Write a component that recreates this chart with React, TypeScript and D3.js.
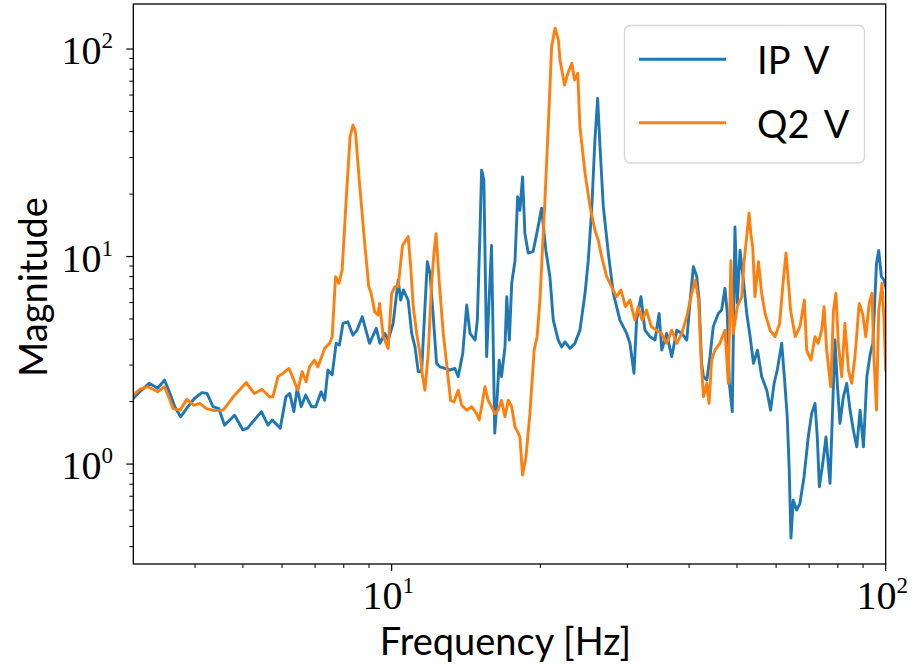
import React from 'react';
import * as d3 from 'd3';

// IP V series (frequency in Hz, magnitude)
const ipFreq = [3.0, 3.09, 3.23, 3.36, 3.47, 3.56, 3.64, 3.74, 3.87, 3.99, 4.13, 4.23, 4.35, 4.47, 4.59, 4.81, 5.0, 5.11, 5.45, 5.62, 5.73, 5.95, 6.11, 6.22, 6.34, 6.44, 6.56, 6.7, 6.88, 7.02, 7.2, 7.32, 7.43, 7.58, 7.72, 7.84, 7.97, 8.15, 8.35, 8.51, 8.72, 9.02, 9.31, 9.47, 9.69, 9.84, 10.07, 10.31, 10.43, 10.56, 10.8, 10.98, 11.15, 11.32, 11.5, 11.68, 11.81, 11.96, 12.14, 12.33, 12.52, 12.82, 13.12, 13.43, 13.64, 13.93, 14.19, 14.41, 14.76, 14.91, 15.09, 15.21, 15.37, 15.57, 15.75, 15.93, 16.17, 16.34, 16.51, 16.69, 16.96, 17.1, 17.31, 17.5, 17.77, 17.99, 18.18, 18.41, 18.61, 18.9, 19.34, 19.79, 20.11, 20.52, 20.91, 21.24, 21.74, 22.08, 22.44, 22.96, 23.5, 24.05, 24.63, 25.0, 25.4, 25.79, 26.12, 26.41, 26.82, 27.45, 28.1, 28.98, 29.9, 30.36, 30.94, 31.32, 31.96, 32.56, 33.34, 34.13, 34.78, 35.22, 36.03, 36.89, 37.78, 38.66, 39.57, 40.2, 40.81, 41.46, 41.91, 42.4, 42.77, 43.44, 44.09, 44.76, 45.84, 46.54, 47.28, 47.8, 48.25, 48.91, 49.53, 50.08, 50.72, 51.51, 52.33, 53.16, 54.0, 55.02, 56.1, 57.45, 58.48, 59.45, 60.33, 61.6, 62.5, 63.2, 63.79, 64.3, 64.99, 66.05, 67.05, 68.35, 69.7, 70.82, 71.93, 72.7, 73.4, 74.55, 75.7, 77.15, 78.15, 78.95, 79.8, 80.8, 82.1, 83.4, 84.7, 86.0, 87.4, 88.75, 90.15, 91.6, 93.1, 94.2, 95.8, 96.8, 98.0, 99.2, 100];
const ipMag = [2.07, 2.23, 2.45, 2.32, 2.54, 2.19, 1.89, 1.69, 1.89, 2.07, 2.21, 2.19, 1.89, 1.85, 1.54, 1.72, 1.46, 1.49, 1.79, 1.54, 1.63, 1.49, 2.11, 2.19, 1.79, 2.32, 1.89, 2.15, 1.89, 1.89, 2.23, 2.03, 2.84, 2.69, 3.82, 3.75, 4.76, 4.85, 4.18, 4.42, 5.13, 3.82, 4.51, 3.82, 4.26, 3.96, 4.76, 7.7, 6.17, 6.9, 6.17, 4.26, 3.67, 2.79, 2.79, 5.73, 9.44, 8.3, 5.13, 3.06, 2.94, 2.89, 2.84, 2.89, 2.64, 3.42, 5.84, 4.26, 3.96, 4.94, 12.9, 26.1, 23.4, 3.29, 6.17, 11.3, 1.41, 2.03, 3.17, 2.64, 3.67, 6.4, 3.96, 7.43, 9.55, 19.4, 16.7, 24.2, 12.9, 10.4, 10.6, 13.9, 17.1, 10.7, 8.0, 4.94, 3.96, 3.67, 3.88, 3.61, 3.82, 4.42, 6.65, 9.55, 16.7, 36.4, 57.8, 33.8, 17.4, 10.4, 6.65, 4.94, 4.26, 3.82, 2.74, 4.94, 6.4, 4.42, 4.11, 3.96, 5.32, 3.54, 4.26, 3.29, 4.42, 4.26, 3.96, 6.17, 8.93, 8.0, 6.17, 3.06, 2.64, 2.54, 3.29, 4.59, 5.32, 5.52, 7.03, 5.32, 2.45, 1.79, 13.9, 5.95, 10.7, 7.7, 5.32, 4.11, 3.06, 3.54, 2.64, 2.27, 1.82, 2.45, 2.84, 3.82, 2.45, 1.69, 0.935, 0.44, 0.67, 0.6, 0.647, 0.869, 1.35, 1.75, 1.96, 1.35, 0.778, 1.0, 1.35, 0.807, 1.96, 3.96, 2.45, 1.57, 2.11, 2.45, 1.82, 1.46, 1.21, 1.82, 1.21, 2.64, 3.42, 3.82, 9.27, 10.7, 8.0, 7.7, 7.15];

// Q2 V series
const q2Freq = [3.0, 3.09, 3.21, 3.36, 3.47, 3.56, 3.61, 3.73, 3.85, 3.98, 4.09, 4.22, 4.38, 4.56, 4.78, 5.08, 5.27, 5.47, 5.66, 5.75, 5.89, 6.03, 6.2, 6.46, 6.59, 6.71, 6.82, 6.98, 7.09, 7.32, 7.49, 7.58, 7.7, 7.82, 7.94, 8.09, 8.24, 8.35, 8.45, 8.61, 8.82, 8.99, 9.09, 9.24, 9.38, 9.45, 9.62, 9.84, 10.0, 10.15, 10.31, 10.52, 10.8, 10.93, 11.06, 11.24, 11.41, 11.55, 11.68, 11.86, 12.05, 12.18, 12.3, 12.49, 12.72, 12.92, 13.16, 13.37, 13.64, 13.86, 14.19, 14.52, 14.86, 15.04, 15.21, 15.45, 15.68, 15.93, 16.17, 16.43, 16.69, 16.96, 17.22, 17.5, 17.77, 18.04, 18.18, 18.41, 18.7, 19.05, 19.43, 19.7, 19.96, 20.43, 20.75, 21.08, 21.42, 21.76, 21.92, 22.38, 22.73, 23.16, 23.45, 23.81, 24.05, 24.63, 25.21, 25.79, 26.2, 26.61, 27.24, 27.88, 28.53, 29.11, 29.73, 30.36, 31.07, 31.54, 32.14, 32.78, 33.55, 34.34, 35.15, 36.03, 36.89, 37.78, 38.66, 39.57, 40.5, 41.15, 41.81, 42.34, 42.77, 43.44, 43.9, 44.43, 45.11, 46.18, 47.28, 48.02, 48.6, 49.12, 50.08, 51.12, 51.65, 52.33, 52.9, 53.33, 53.81, 54.37, 55.27, 56.1, 57.0, 58.33, 59.7, 61.0, 62.05, 62.85, 63.5, 64.18, 65.6, 67.05, 68.45, 69.2, 70.6, 71.93, 73.0, 74.2, 75.05, 75.95, 77.4, 78.4, 79.3, 80.2, 81.45, 82.7, 84.05, 85.35, 86.65, 88.4, 89.8, 91.15, 92.6, 93.8, 94.65, 95.8, 96.8, 98.3, 99.2, 100];
const q2Mag = [2.15, 2.29, 2.36, 2.23, 2.36, 2.03, 1.85, 1.82, 2.05, 1.92, 1.96, 1.85, 1.81, 1.82, 2.11, 2.47, 2.19, 2.29, 2.11, 2.11, 2.64, 2.74, 2.89, 2.27, 2.79, 2.49, 2.94, 3.17, 2.94, 3.61, 3.82, 4.11, 8.0, 7.43, 8.61, 18.7, 37.8, 43.0, 39.9, 22.5, 11.6, 7.15, 6.65, 5.42, 5.23, 5.95, 4.11, 3.61, 6.65, 7.15, 7.15, 11.3, 12.5, 8.93, 5.73, 4.26, 3.42, 2.64, 2.27, 3.42, 7.43, 10.4, 12.9, 7.43, 4.26, 3.06, 2.03, 1.99, 2.27, 1.92, 1.82, 1.89, 1.75, 1.63, 1.89, 2.36, 2.03, 1.89, 1.75, 1.82, 2.03, 1.69, 2.03, 1.89, 1.51, 1.41, 1.35, 0.885, 1.08, 1.75, 3.54, 4.11, 6.17, 18.7, 42.2, 103, 126, 110, 88.5, 67.1, 76.4, 85.3, 71, 76.4, 42.2, 25.2, 17.4, 13.4, 11.95, 9.99, 8.0, 7.15, 6.4, 6.9, 5.73, 6.17, 4.94, 5.73, 4.94, 5.52, 4.59, 4.42, 4.26, 3.82, 4.42, 3.82, 4.26, 5.13, 6.65, 7.7, 6.17, 3.06, 2.11, 2.45, 1.96, 3.17, 3.54, 3.82, 4.42, 2.45, 9.55, 4.26, 5.73, 6.4, 9.27, 12.5, 16.2, 12.9, 11.1, 6.4, 9.44, 6.65, 5.32, 4.42, 4.11, 4.76, 7.7, 10.4, 7.7, 5.52, 4.11, 4.59, 6.17, 3.54, 3.17, 4.11, 3.82, 4.42, 5.73, 3.54, 2.36, 5.52, 6.65, 3.82, 2.64, 4.76, 2.84, 2.45, 3.29, 5.95, 5.32, 4.11, 5.95, 6.65, 3.29, 1.82, 5.52, 7.43, 4.94, 2.84];

const seriesNames = ['IP V', 'Q2 V'];
const seriesColors = ['#1f77b4', '#ff7f0e'];
const xDomain = [3, 100];
const yDomain = [0.33, 164.8];
const xMajorTicks = [10, 100];
const yMajorTicks = [1, 10, 100];
const xLabel = 'Frequency [Hz]';
const yLabel = 'Magnitude';

export default function App() {
  const W = 917, H = 668;
  const L = 133.3, R = 885.7, T = 4, B = 564;
  const x = d3.scaleLog().domain(xDomain).range([L, R]);
  const y = d3.scaleLog().domain(yDomain).range([B, T]);
  const line = d3.line<[number, number]>().x(d => x(d[0])).y(d => y(d[1]));
  const ipData: [number, number][] = ipFreq.map((f, i) => [f, ipMag[i]]);
  const q2Data: [number, number][] = q2Freq.map((f, i) => [f, q2Mag[i]]);
  const isMajor = (v: number, majors: number[]) => majors.some(m => Math.abs(m - v) / m < 1e-6);
  const xMinor = x.ticks().filter(v => !isMajor(v, xMajorTicks) && v > xDomain[0] * 1.001);
  const yMinor = y.ticks().filter(v => !isMajor(v, yMajorTicks));
  const serif = "'Liberation Serif', 'DejaVu Serif', serif";
  const sans = "Lato, 'Open Sans', sans-serif";
  const expOf = (v: number) => Math.round(Math.log10(v));

  return (
    <svg width={W} height={H} style={{ position: 'absolute', left: 0, top: 0, background: '#fff' }}>
      <defs>
        <clipPath id="plotclip">
          <rect x={L} y={T} width={R - L} height={B - T} />
        </clipPath>
      </defs>
      <rect x={0} y={0} width={W} height={H} fill="#fff" />
      <g clipPath="url(#plotclip)" fill="none" strokeWidth={2.9} strokeLinejoin="round" strokeLinecap="square">
        <path d={line(ipData) || ''} stroke={seriesColors[0]} />
        <path d={line(q2Data) || ''} stroke={seriesColors[1]} />
      </g>
      {/* spines */}
      <rect x={L} y={T} width={R - L} height={B - T} fill="none" stroke="#000" strokeWidth={1.3} />
      {/* x ticks */}
      {xMinor.map(v => (
        <line key={'xm' + v} x1={x(v)} x2={x(v)} y1={B} y2={B + 4} stroke="#000" strokeWidth={1} />
      ))}
      {xMajorTicks.map(v => (
        <g key={'xM' + v}>
          <line x1={x(v)} x2={x(v)} y1={B} y2={B + 7} stroke="#000" strokeWidth={1.2} />
          <text x={x(v) - 3.5} y={609} textAnchor="middle" fontFamily={serif} fontSize={40} fill="#000">
            10<tspan dy={-16} fontSize={23}>{expOf(v)}</tspan>
          </text>
        </g>
      ))}
      {/* y ticks */}
      {yMinor.map(v => (
        <line key={'ym' + v} x1={L - 4} x2={L} y1={y(v)} y2={y(v)} stroke="#000" strokeWidth={1} />
      ))}
      {yMajorTicks.map(v => (
        <g key={'yM' + v}>
          <line x1={L - 7} x2={L} y1={y(v)} y2={y(v)} stroke="#000" strokeWidth={1.2} />
          <text x={113} y={y(v) + 15} textAnchor="end" fontFamily={serif} fontSize={40} fill="#000">
            10<tspan dy={-16} fontSize={23}>{expOf(v)}</tspan>
          </text>
        </g>
      ))}
      {/* axis labels */}
      <text x={(L + R) / 2 - 4} y={655} textAnchor="middle" fontFamily={sans} fontSize={38} fill="#000">{xLabel}</text>
      <text transform={`translate(47,${(T + B) / 2 + 3}) rotate(-90)`} textAnchor="middle" fontFamily={sans} fontSize={38} fill="#000">{yLabel}</text>
      {/* legend */}
      <g>
        <rect x={624.5} y={25.5} width={240} height={137.5} rx={6} ry={6} fill="#fff" fillOpacity={0.8} stroke="#d6d6d6" strokeWidth={1.3} />
        {seriesNames.map((name, i) => (
          <g key={name}>
            <line x1={639} x2={726} y1={59.3 + i * 63.4} y2={59.3 + i * 63.4} stroke={seriesColors[i]} strokeWidth={2.9} />
            <text x={757} y={74.3 + i * 64} fontFamily={sans} fontSize={38} wordSpacing={6} fill="#000">{name}</text>
          </g>
        ))}
      </g>
    </svg>
  );
}
